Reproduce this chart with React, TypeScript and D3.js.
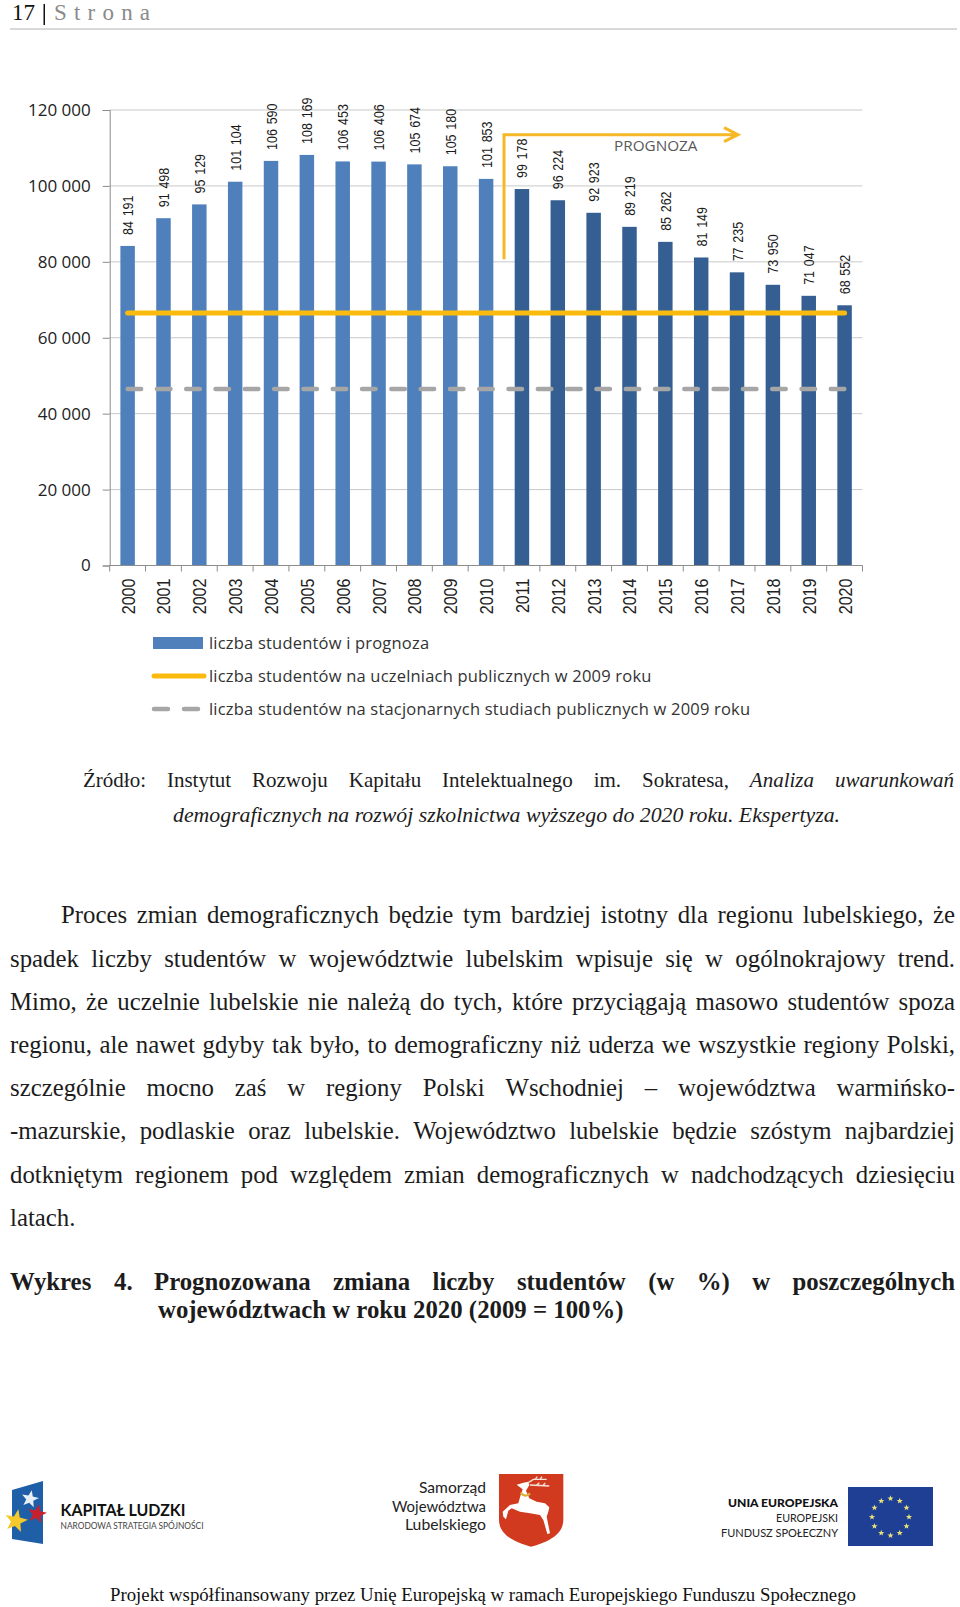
import * as d3 from "d3";
import { useEffect, useRef } from "react";

// values
const years = ["2000","2001","2002","2003","2004","2005","2006","2007","2008","2009","2010","2011","2012","2013","2014","2015","2016","2017","2018","2019","2020"];
const students = [84191,91498,95129,101104,106590,108169,106453,106406,105674,105180,101853,99178,96224,92923,89219,85262,81149,77235,73950,71047,68552];
const firstForecastYear = "2011";
const yTicks = [0,20000,40000,60000,80000,100000,120000];
const publicLevel = [66500];
const fullTimeLevel = [46500];
const arrowFromTo = [80700,113500];
const legendLabels = [
  "liczba studentów i prognoza",
  "liczba studentów na uczelniach publicznych w 2009 roku",
  "liczba studentów na stacjonarnych studiach publicznych w 2009 roku",
];

const bodyLines = [
  "Proces zmian demograficznych będzie tym bardziej istotny dla regionu lubelskiego, że",
  "spadek liczby studentów w województwie lubelskim wpisuje się w ogólnokrajowy trend.",
  "Mimo, że uczelnie lubelskie nie należą do tych, które przyciągają masowo studentów spoza",
  "regionu, ale nawet gdyby tak było, to demograficzny niż uderza we wszystkie regiony Polski,",
  "szczególnie mocno zaś w regiony Polski Wschodniej – województwa warmińsko-",
  "-mazurskie, podlaskie oraz lubelskie. Województwo lubelskie będzie szóstym najbardziej",
  "dotkniętym regionem pod względem zmian demograficznych w nadchodzących dziesięciu",
];
const bodyBaselines = [923,967,1010,1053,1096,1139,1183];

const SERIF = "'Liberation Serif'";
const CHART_FONT = "'Open Sans'";
const fmt = (v: number) => d3.format(",")(v).replace(/,/g, " ");

const ctx = document.createElement("canvas").getContext("2d")!;

// word-by-word justified line, like the typeset page
const justify = (g: any, line: string, x0: number, x1: number, y: number, size: number, opts: any = {}) => {
  const words = line.split(" ");
  const fontOf = (i: number) => {
    const it = opts.italicFrom !== undefined && i >= opts.italicFrom;
    return `${it ? "italic " : ""}${opts.bold ? "bold " : ""}${size}px ${SERIF}`;
  };
  const widths = words.map((w, i) => {
    ctx.font = fontOf(i);
    return ctx.measureText(w).width;
  });
  const gap = (x1 - x0 - d3.sum(widths)) / (words.length - 1);
  let x = x0;
  words.forEach((w, i) => {
    g.append("text")
      .attr("x", x)
      .attr("y", y)
      .attr("font-family", SERIF)
      .attr("font-size", size)
      .attr("font-style", opts.italicFrom !== undefined && i >= opts.italicFrom ? "italic" : "normal")
      .attr("font-weight", opts.bold ? "bold" : "normal")
      .attr("fill", "#1c1c1c")
      .text(w);
    x += widths[i] + gap;
  });
};

const plain = (g: any, s: string, x: number, y: number, size: number, o: any = {}) => {
  const t = g.append("text")
    .attr("x", x)
    .attr("y", y)
    .attr("font-family", o.family ?? SERIF)
    .attr("font-size", size)
    .attr("font-style", o.style ?? "normal")
    .attr("font-weight", o.weight ?? "normal")
    .attr("fill", o.fill ?? "#1c1c1c")
    .attr("text-anchor", o.anchor ?? "start")
    .attr("letter-spacing", o.spacing ?? null)
    .text(s);
  if (o.len) t.attr("textLength", o.len).attr("lengthAdjust", "spacingAndGlyphs");
  return t;
};

const drawChart = (g: any) => {
  const x = d3.scaleBand().domain(years).range([109.7, 862.5]).paddingInner(0.596).paddingOuter(0.298);
  const y = d3.scaleLinear().domain([0, 120000]).range([565.5, 110]);
  const [left, right] = x.range();
  const forecastIdx = years.indexOf(firstForecastYear);
  const boundary = left + x.step() * forecastIdx;
  const centre = (d: string) => x(d)! + x.bandwidth() / 2;

  g.append("g")
    .selectAll("line")
    .data(yTicks.slice(1))
    .join("line")
    .attr("x1", left)
    .attr("x2", right)
    .attr("y1", (d: number) => y(d))
    .attr("y2", (d: number) => y(d))
    .attr("stroke", "#c9c9c9")
    .attr("stroke-width", 1);

  // bars
  g.append("g")
    .selectAll("rect")
    .data(years)
    .join("rect")
    .attr("x", (d: string) => x(d)!)
    .attr("width", x.bandwidth())
    .attr("y", (_: string, i: number) => y(students[i]))
    .attr("height", (_: string, i: number) => y(0) - y(students[i]))
    .attr("fill", (_: string, i: number) => (i < forecastIdx ? "#4f80bc" : "#355f92"));

  // axes
  const yAxis = g.append("g")
    .attr("transform", `translate(${left},0)`)
    .call(d3.axisLeft(y).tickValues(yTicks).tickSize(7).tickPadding(12).tickFormat((d: any) => fmt(d)));
  yAxis.selectAll("path,line").attr("stroke", "#8c8c8c");
  yAxis.selectAll("text").attr("font-family", CHART_FONT).attr("font-size", 17).attr("fill", "#222");

  const xAxis = g.append("g")
    .attr("transform", `translate(0,${y(0)})`)
    .call(d3.axisBottom(x).tickSize(0).tickPadding(0));
  xAxis.select("path").attr("stroke", "#8c8c8c").attr("d", `M${left},0H${right}`);
  xAxis.selectAll("text")
    .attr("font-family", "'Liberation Sans'")
    .attr("font-size", 18.5)
    .attr("fill", "#222")
    .attr("text-anchor", "end")
    .attr("dy", null)
    .attr("y", null)
    .attr("transform", "translate(7,13) rotate(-90) scale(0.87,1)");
  g.append("g")
    .selectAll("line")
    .data(d3.range(years.length + 1))
    .join("line")
    .attr("x1", (i: number) => left + i * x.step())
    .attr("x2", (i: number) => left + i * x.step())
    .attr("y1", y(0))
    .attr("y2", y(0) + 6)
    .attr("stroke", "#8c8c8c");

  // reference lines
  const lineStart = centre(years[0]);
  const lineEnd = centre(years[years.length - 1]);
  g.append("line")
    .attr("x1", lineStart).attr("x2", lineEnd + 1)
    .attr("y1", y(fullTimeLevel[0])).attr("y2", y(fullTimeLevel[0]))
    .attr("stroke", "#a6a6a6").attr("stroke-width", 4.5).attr("stroke-linecap", "round")
    .attr("stroke-dasharray", "13.5 15.8");
  g.append("line")
    .attr("x1", lineStart).attr("x2", lineEnd)
    .attr("y1", y(publicLevel[0])).attr("y2", y(publicLevel[0]))
    .attr("stroke", "#fbbb0e").attr("stroke-width", 5).attr("stroke-linecap", "round");

  // prognosis arrow
  const ay0 = y(arrowFromTo[0]);
  const ay1 = y(arrowFromTo[1]);
  const tip = boundary + 234;
  g.append("path")
    .attr("d", `M${boundary},${ay0}V${ay1}H${tip}M${tip - 14},${ay1 - 7}L${tip},${ay1}L${tip - 14},${ay1 + 7}`)
    .attr("fill", "none").attr("stroke", "#f5b826").attr("stroke-width", 3);
  plain(g, "PROGNOZA", boundary + 110, ay1 + 16, 15.3, { family: CHART_FONT, fill: "#595959" });

  // value labels
  g.append("g")
    .selectAll("text")
    .data(years)
    .join("text")
    .attr("transform", (d: string, i: number) => `translate(${centre(d) + 5.5},${y(students[i]) - 11}) rotate(-90) scale(0.86,1)`)
    .attr("font-family", "'Liberation Sans'")
    .attr("font-size", 14.5)
    .attr("word-spacing", 1.5)
    .attr("fill", "#1a1a1a")
    .text((_: string, i: number) => fmt(students[i]));

  // legend
  const lg = g.append("g");
  const rows = [643, 676, 709];
  lg.append("rect").attr("x", 153).attr("y", rows[0] - 6).attr("width", 50).attr("height", 12).attr("fill", "#4f80bc");
  lg.append("line").attr("x1", 154).attr("x2", 204).attr("y1", rows[1]).attr("y2", rows[1])
    .attr("stroke", "#fbbb0e").attr("stroke-width", 5).attr("stroke-linecap", "round");
  lg.append("line").attr("x1", 154).attr("x2", 198).attr("y1", rows[2]).attr("y2", rows[2])
    .attr("stroke", "#a6a6a6").attr("stroke-width", 4.5).attr("stroke-linecap", "round").attr("stroke-dasharray", "14 16");
  legendLabels.forEach((s, i) =>
    plain(lg, s, 209, rows[i] + 6, 16.5, { family: CHART_FONT, fill: "#333", weight: 500, spacing: "0.2" }));
};

const star = (cx: number, cy: number, r: number, rot = 0) =>
  d3.range(10).map((i) => {
    const a = rot + (i * Math.PI) / 5 - Math.PI / 2;
    const rr = i % 2 ? r * 0.42 : r;
    return `${i ? "L" : "M"}${cx + rr * Math.cos(a)},${cy + rr * Math.sin(a)}`;
  }).join("") + "Z";

const drawLogos = (g: any) => {
  // Kapitał Ludzki
  g.append("path").attr("d", "M12,1490L43,1481L43,1544L12,1539Z").attr("fill", "#1f5fa8");
  g.append("path").attr("d", star(30, 1499, 9, 0.2)).attr("fill", "#e8eef5");
  g.append("path").attr("d", star(37, 1514, 10, 0.2)).attr("fill", "#c8202f");
  g.append("path").attr("d", star(16, 1521, 12, 0.2)).attr("fill", "#f5c92b");
  plain(g, "KAPITAŁ LUDZKI", 60.5, 1516, 17.5, { family: "Lato", weight: 700, fill: "#111", len: 125 });
  plain(g, "NARODOWA STRATEGIA SPÓJNOŚCI", 60.5, 1529, 9.5, { family: "Lato", fill: "#444", len: 143 });

  // Samorząd
  ["Samorząd", "Województwa", "Lubelskiego"].forEach((s, i) =>
    plain(g, s, 486, [1493, 1512, 1530][i], 16, { family: "Lato", anchor: "end", fill: "#222", len: [67, 94, 81][i] }));
  const shield = g.append("g").attr("transform", "translate(490,1470) scale(0.3333)");
  shield.append("path").attr("d", "M27,12H220V150C220,195 170,218 123,230C76,218 27,195 27,150Z").attr("fill", "#d23a20");
  shield.append("path")
    .attr("d", "M80,44L100,38L115,35L118,45L108,62L118,85L140,95L165,100L178,112L175,125L170,140L180,190L172,192L160,150L150,135L120,130L90,125L65,115L55,122L48,148L40,140L38,125L60,105L85,100L92,75L98,58Z")
    .attr("fill", "#fff");
  shield.append("path").attr("d", "M115,38L130,28L170,28M135,28L142,20M150,28L156,20M120,45L178,48M140,46L148,38M158,47L166,39")
    .attr("fill", "none").attr("stroke", "#f3e3d8").attr("stroke-width", 4);
  shield.append("path").attr("d", "M92,68Q105,85 120,70").attr("fill", "none").attr("stroke", "#d9b23c").attr("stroke-width", 7);

  // UE
  plain(g, "UNIA EUROPEJSKA", 838, 1507, 12, { family: "Lato", weight: 900, anchor: "end", fill: "#111", len: 110 });
  plain(g, "EUROPEJSKI", 838, 1522, 12, { family: "Lato", anchor: "end", fill: "#222", len: 62 });
  plain(g, "FUNDUSZ SPOŁECZNY", 838, 1536.5, 12, { family: "Lato", anchor: "end", fill: "#222", len: 117 });
  g.append("rect").attr("x", 848).attr("y", 1487).attr("width", 85).attr("height", 59).attr("fill", "#1e3f93");
  d3.range(12).forEach((i) => {
    const a = (i * Math.PI) / 6;
    g.append("path").attr("d", star(890.5 + 18.5 * Math.sin(a), 1517 - 18.5 * Math.cos(a), 3.2)).attr("fill", "#e9e27a");
  });
};

const draw = (svgEl: SVGSVGElement) => {
  const svg = d3.select(svgEl);
  svg.selectAll("*").remove();
  svg.append("rect").attr("width", 960).attr("height", 1607).attr("fill", "#fff");

  // page header
  plain(svg, "17", 12, 20, 23, { fill: "#111" });
  svg.append("rect").attr("x", 43.5).attr("y", 4).attr("width", 1.5).attr("height", 21).attr("fill", "#111");
  plain(svg, "Strona", 54, 20, 23, { fill: "#8a8a8a", spacing: "7.2" });
  svg.append("line").attr("x1", 10).attr("x2", 957).attr("y1", 29).attr("y2", 29).attr("stroke", "#d9d9d9").attr("stroke-width", 2);

  drawChart(svg.append("g"));

  // source note
  justify(svg, "Źródło: Instytut Rozwoju Kapitału Intelektualnego im. Sokratesa, Analiza uwarunkowań", 83, 954, 787, 21, { italicFrom: 7 });
  plain(svg, "demograficznych na rozwój szkolnictwa wyższego do 2020 roku. Ekspertyza.", 173, 822, 21, { style: "italic", len: 667 });

  // body
  bodyLines.forEach((l, i) => justify(svg, l, i === 0 ? 61 : 10, 955, bodyBaselines[i], 24.8));
  plain(svg, "latach.", 10, 1226, 24.8);

  // chart caption
  plain(svg, "Wykres", 10, 1290, 24.8, { weight: "bold" });
  plain(svg, "4.", 114, 1290, 24.8, { weight: "bold" });
  justify(svg, "Prognozowana zmiana liczby studentów (w %) w poszczególnych", 154, 955, 1290, 24.8, { bold: true });
  plain(svg, "województwach w roku 2020 (2009 = 100%)", 158, 1318, 24.8, { weight: "bold" });

  drawLogos(svg);

  plain(svg, "Projekt współfinansowany przez Unię Europejską w ramach Europejskiego Funduszu Społecznego", 110, 1601, 18.5, { fill: "#111", len: 746 });
};

export default function App() {
  const svgRef = useRef<SVGSVGElement>(null);
  useEffect(() => {
    draw(svgRef.current!);
  }, []);
  return <svg ref={svgRef} width={960} height={1607} style={{ position: "absolute", left: 0, top: 0, display: "block" }} />;
}
